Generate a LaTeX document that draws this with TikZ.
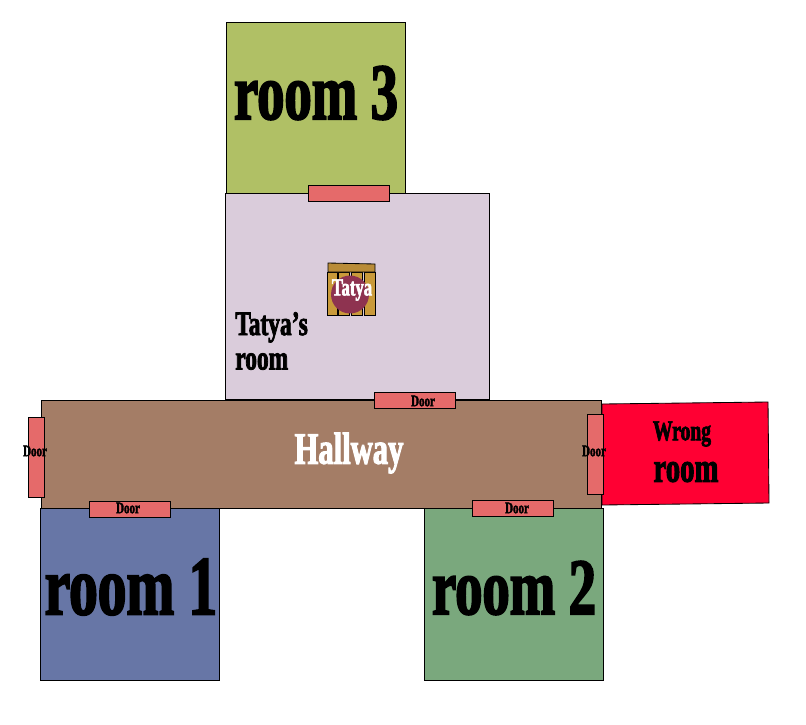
\documentclass[tikz,border=0pt]{standalone}
\usepackage{fontspec}
\setmainfont{Liberation Serif}
\newfontfamily\fatfont[FakeStretch=0.68,FakeBold=2.2]{Liberation Serif Bold}
\usetikzlibrary{positioning}

\definecolor{roomthree}{HTML}{B0C065}
\definecolor{roomtatya}{HTML}{DACCDB}
\definecolor{roomhall}{HTML}{A47D66}
\definecolor{roomone}{HTML}{6776A6}
\definecolor{roomtwo}{HTML}{7AA87D}
\definecolor{roomwrong}{HTML}{FF0033}
\definecolor{doorred}{HTML}{E56A6A}
\definecolor{cagewood}{HTML}{C99A3A}
\definecolor{cagetop}{HTML}{B98C38}
\definecolor{tatyared}{HTML}{8E3350}

\tikzset{
  room/.style={rectangle, draw, inner sep=0pt, line width=0.6pt},
  doorbox/.style={rectangle, draw, fill=doorred, inner sep=0pt, line width=0.6pt},
  hdoor/.style={doorbox, minimum width=57.7pt, minimum height=11.5pt},
  vdoor/.style={doorbox, minimum width=11.5pt, minimum height=57pt},
  cagebar/.style={rectangle, draw, fill=cagewood, inner sep=0pt, line width=0.6pt, minimum width=7.4pt, minimum height=30.6pt},
  biglabel/.style={font=\fatfont\fontsize{57}{57}\selectfont, inner sep=0pt},
  midlabel/.style={font=\fatfont\fontsize{24.5}{24.5}\selectfont, inner sep=0pt, align=left},
  doorlabel/.style={font=\fatfont\fontsize{11.5}{11.5}\selectfont, inner sep=0pt}
}

\begin{document}
\begin{tikzpicture}[x=0.025cm, y=-0.025cm]

  \useasboundingbox (0,0) rectangle (806,724);

  % Rooms
  \node[room, fill=roomthree, minimum width=127.4pt, minimum height=121.7pt] (room3) at (316,108) {};
  \node[room, fill=roomtatya, minimum width=187.8pt, minimum height=146.6pt] (tatyaroom) at (357.5,296.5) {};
  \node[room, fill=roomhall, minimum width=398.3pt, minimum height=76.9pt] (hallway) at (321.5,454.5) {};
  \node[room, fill=roomone, minimum width=127.4pt, minimum height=122.4pt] (room1) at (130,594.5) {};
  \node[room, fill=roomtwo, minimum width=127.4pt, minimum height=122.4pt] (room2) at (514,594.5) {};

  % Wrong room is a bit crooked
  \coordinate (w1) at (602,404);
  \coordinate (w2) at (768,402);
  \coordinate (w3) at (769,503);
  \coordinate (w4) at (602,505);
  \draw[fill=roomwrong, line width=0.6pt] (w1) -- (w2) -- (w3) -- (w4) -- cycle;

  % Doors
  \node[hdoor] (door3) at (349,193.5) {};
  \node[hdoor] (doortatya) at (415,400.5) {};
  \node[vdoor] (doorleft) at (36.5,457.5) {};
  \node[vdoor] (doorright) at (595.5,454.5) {};
  \node[hdoor] (door1) at (130,509.5) {};
  \node[hdoor] (door2) at (513,508.5) {};

  % Cage
  \node[cagebar] (bar1) at (332.5,293.5) {};
  \node[cagebar] (bar2) at (344,293.5) {};
  \node[cagebar] (bar3) at (357,293.5) {};
  \node[cagebar] (bar4) at (370,293.5) {};
  \draw[fill=cagetop, line width=0.6pt] (328,263) -- (375,264) -- (375,272) -- (328,272) -- cycle;
  \node[circle, fill=tatyared, minimum size=27pt, inner sep=0pt] (tatya) at (350,294.5) {};

  % Labels
  \node[biglabel] (room3label) at (316,93) {room 3};
  \node[biglabel, font=\fatfont\fontsize{60}{60}\selectfont] (room1label) at (131,587) {room 1};
  \node[biglabel] (room2label) at (514,588) {room 2};
  \node[midlabel, anchor=west] (tatyalabel) at (235,341) {Tatya’s\\room};
  \node[font=\fatfont\fontsize{32}{32}\selectfont, text=white, inner sep=0pt] (halllabel) at (349,453) {Hallway};
  \node[font=\fatfont\fontsize{20.5}{20}\selectfont, inner sep=0pt] (wronglabel) at (682,434) {Wrong};
  \node[font=\fatfont\fontsize{30}{30}\selectfont, inner sep=0pt] (roomlabel) at (686,472) {room};
  \node[font=\fatfont\fontsize{17.5}{17.5}\selectfont, text=white, inner sep=0pt] (tatyaname) at (352,290) {Tatya};
  \node[doorlabel] (doortatyalabel) at (423,401) {Door};
  \node[doorlabel] (doorleftlabel) at (35,451) {Door};
  \node[doorlabel] (doorrightlabel) at (594,451) {Door};
  \node[doorlabel] (door1label) at (128,508) {Door};
  \node[doorlabel] (door2label) at (517,508) {Door};

\end{tikzpicture}
\end{document}
